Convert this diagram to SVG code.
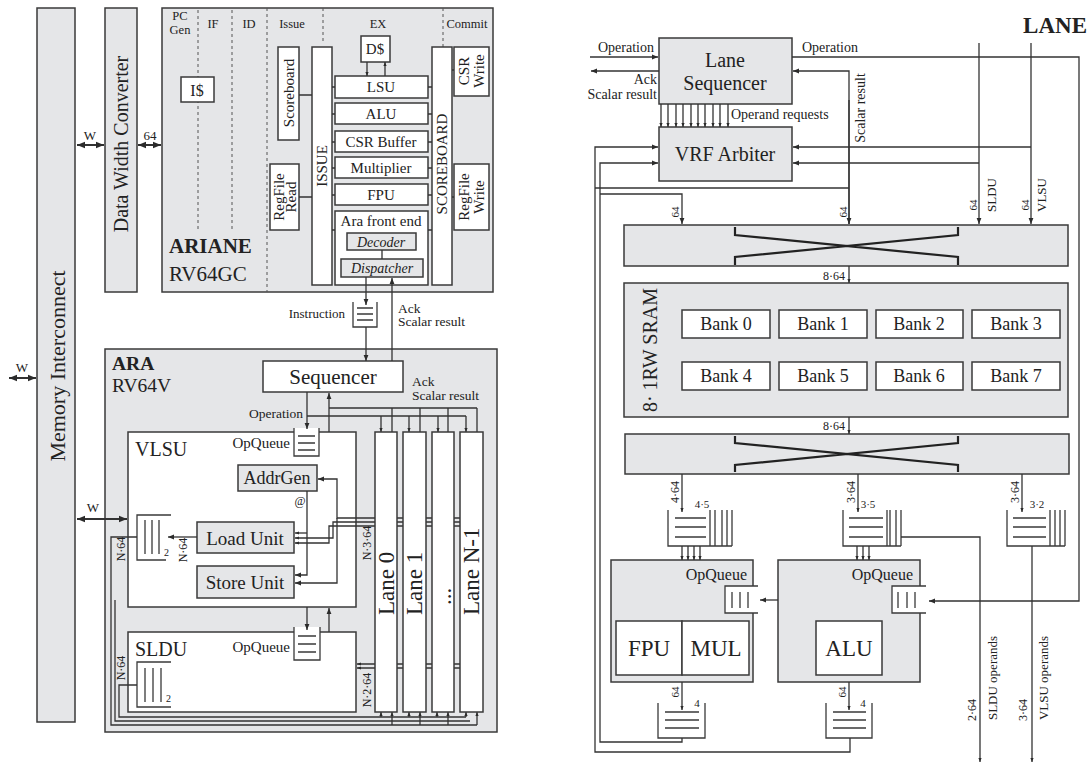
<svg xmlns="http://www.w3.org/2000/svg" width="1091" height="765" viewBox="0 0 1091 765">
<defs>
<marker id="a" viewBox="0 0 10 10" refX="10" refY="5" markerWidth="6" markerHeight="6" markerUnits="userSpaceOnUse" orient="auto-start-reverse"><path d="M0,1 L10,5 L0,9z" fill="#2b2b2b"/></marker>
<marker id="s" viewBox="0 0 10 10" refX="10" refY="5" markerWidth="4" markerHeight="4" markerUnits="userSpaceOnUse" orient="auto-start-reverse"><path d="M0,1 L10,5 L0,9z" fill="#2b2b2b"/></marker>
<marker id="b" viewBox="0 0 10 10" refX="10" refY="5" markerWidth="8" markerHeight="8" markerUnits="userSpaceOnUse" orient="auto-start-reverse"><path d="M0,1 L10,5 L0,9z" fill="#2b2b2b"/></marker>
</defs>
<style>
text{font-family:"Liberation Serif","Times New Roman",serif;fill:#222}
.g{fill:#e5e6e8;stroke:#3a3a3a;stroke-width:1.5}
.w{fill:#fff;stroke:#3a3a3a;stroke-width:1.5}
.q{fill:none;stroke:#3a3a3a;stroke-width:1.3}
.dash{fill:none;stroke:#555;stroke-width:1;stroke-dasharray:3 3}
.c{text-anchor:middle;dominant-baseline:central}
.m{text-anchor:middle}
.e{text-anchor:end}
.x{fill:none;stroke:#222;stroke-width:2.2}
.cn{fill:none;stroke:#333;stroke-width:1.3}
</style>
<rect width="1091" height="765" fill="#fff"/>

<!-- ===== LEFT: system ===== -->
<g id="memory-interconnect"><rect class="g" x="37" y="8" width="38" height="714"/><text class="c" font-size="22" x="57" y="366" transform="rotate(-90 57 366)">Memory Interconnect</text></g>
<g id="data-width-converter"><rect class="g" x="105" y="8" width="32" height="284"/><text class="c" font-size="20" x="121" y="144" transform="rotate(-90 121 144)">Data Width Converter</text></g>

<g id="ariane">
<rect class="g" x="162" y="8" width="331" height="284"/>
<path class="dash" d="M198,10V230M232,10V230M267,8V292M323,8V43M443,8V47"/>
<g font-size="12.5">
<text x="180" y="20" class="m">PC</text><text x="180" y="34" class="m">Gen</text>
<text x="213" y="28" class="m">IF</text><text x="249" y="28" class="m">ID</text>
<text x="292" y="28" class="m">Issue</text><text x="378" y="28" class="m">EX</text><text x="467" y="28" class="m">Commit</text>
</g>
<text x="169" y="253" font-size="21" font-weight="bold">ARIANE</text>
<text x="169" y="281" font-size="21">RV64GC</text>
</g>
<g id="icache"><rect class="w" x="181" y="77" width="33" height="25"/><text class="c" x="197" y="90" font-size="16">I$</text></g>
<g id="scoreboard-small"><rect class="w" x="278" y="47" width="21" height="93"/><text class="c" font-size="15" x="289" y="93" transform="rotate(-90 289 93)">Scoreboard</text></g>
<g id="regfile-read"><rect class="w" x="270" y="164" width="29" height="66"/><text class="c" font-size="15" x="279" y="197" transform="rotate(-90 279 197)">RegFile</text><text class="c" font-size="15" x="291" y="197" transform="rotate(-90 291 197)">Read</text></g>
<g id="issue"><rect class="w" x="312" y="47" width="20" height="238"/><text class="c" font-size="15" x="322" y="166" transform="rotate(-90 322 166)">ISSUE</text></g>
<g id="dcache"><rect class="w" x="361" y="36" width="29" height="26"/><text class="c" x="375" y="49" font-size="15">D$</text></g>
<g id="lsu"><rect class="w" x="335" y="76" width="93" height="22"/><text class="c" x="381" y="87" font-size="15">LSU</text></g>
<g id="alu-ariane"><rect class="w" x="335" y="103" width="93" height="21"/><text class="c" x="381" y="114" font-size="15">ALU</text></g>
<g id="csr-buffer"><rect class="w" x="335" y="131" width="93" height="21"/><text class="c" x="381" y="142" font-size="15">CSR Buffer</text></g>
<g id="multiplier"><rect class="w" x="335" y="157" width="93" height="21"/><text class="c" x="381" y="168" font-size="15">Multiplier</text></g>
<g id="fpu-ariane"><rect class="w" x="335" y="184" width="93" height="21"/><text class="c" x="381" y="195" font-size="15">FPU</text></g>
<g id="ara-front-end"><rect class="w" x="335" y="211" width="93" height="74"/><text class="c" x="381" y="221" font-size="15">Ara front end</text></g>
<g id="decoder"><rect class="g" x="347" y="233" width="69" height="17"/><text class="c" x="381" y="242" font-size="14" font-style="italic">Decoder</text></g>
<g id="dispatcher"><rect class="g" x="341" y="259" width="82" height="18"/><text class="c" x="382" y="268" font-size="14" font-style="italic">Dispatcher</text></g>
<g id="scoreboard"><rect class="w" x="432" y="47" width="20" height="238"/><text class="c" font-size="15" x="442" y="164" transform="rotate(-90 442 164)">SCOREBOARD</text></g>
<g id="csr-write"><rect class="w" x="454" y="47" width="35" height="49"/><text class="c" font-size="15" x="464" y="71" transform="rotate(-90 464 71)">CSR</text><text class="c" font-size="15" x="479" y="71" transform="rotate(-90 479 71)">Write</text></g>
<g id="regfile-write"><rect class="w" x="454" y="164" width="35" height="66"/><text class="c" font-size="15" x="464" y="197" transform="rotate(-90 464 197)">RegFile</text><text class="c" font-size="15" x="479" y="197" transform="rotate(-90 479 197)">Write</text></g>

<g id="instruction-queue"><rect x="353" y="302" width="24" height="25" fill="#fff"/><path class="q" d="M353,302V327H377V302M357,308H373M357,314H373M357,320H373"/><text x="345" y="318" font-size="13" class="e">Instruction</text></g>
<text x="398" y="313" font-size="13.5">Ack</text><text x="398" y="326" font-size="13.5">Scalar result</text>

<g id="ara">
<rect class="g" x="105" y="349" width="392" height="383"/>
<text x="112" y="370" font-size="19.5" font-weight="bold">ARA</text>
<text x="112" y="392" font-size="19.5">RV64V</text>
<text x="412" y="386" font-size="13.5">Ack</text><text x="412" y="400" font-size="13.5">Scalar result</text>
<text x="303" y="418" font-size="13.5" class="e">Operation</text>
</g>
<g id="sequencer"><rect class="w" x="263" y="361" width="140" height="31"/><text class="c" x="333" y="377" font-size="21">Sequencer</text></g>

<g id="vlsu">
<rect class="w" x="128" y="432" width="228" height="175"/>
<text x="135" y="456" font-size="20">VLSU</text>
<text x="290" y="448" font-size="15" class="e">OpQueue</text>
<rect x="294" y="428" width="25" height="28" fill="#fff"/>
<path class="q" d="M294,428V456H319V428M298,436H315M298,443H315M298,450H315"/>
<path class="q" d="M171,515H137V560H166M145,520V554M152,520V554M159,520V554"/>
<text x="164" y="556" font-size="10">2</text>
<text class="c" font-size="12" x="183" y="550" transform="rotate(-90 183 550)">N·64</text>
<text class="c" font-size="12" x="367" y="543" transform="rotate(-90 367 543)">N·3·64</text>
<text class="c" font-size="12" x="300" y="501">@</text>
</g>
<g id="addrgen"><rect class="g" x="238" y="465" width="79" height="26"/><text class="c" x="277" y="478" font-size="18">AddrGen</text></g>
<g id="load-unit"><rect class="g" x="197" y="522" width="97" height="31"/><text class="c" x="245" y="538" font-size="19">Load Unit</text></g>
<g id="store-unit"><rect class="g" x="197" y="566" width="97" height="32"/><text class="c" x="245" y="582" font-size="19">Store Unit</text></g>

<g id="sldu">
<rect class="w" x="128" y="632" width="228" height="80"/>
<text x="135" y="656" font-size="20">SLDU</text>
<text x="290" y="652" font-size="15" class="e">OpQueue</text>
<rect x="294" y="627" width="26" height="33" fill="#fff"/>
<path class="q" d="M294,627V660H320V627M298,636H316M298,644H316M298,652H316"/>
<path class="q" d="M171,662H137V707H171M145,668V702M153,668V702M161,668V702"/>
<text x="166" y="702" font-size="10">2</text>
<text class="c" font-size="12" x="121" y="668" transform="rotate(-90 121 668)">N·64</text>
<text class="c" font-size="12" x="367" y="690" transform="rotate(-90 367 690)">N·2·64</text>
</g>
<text class="c" font-size="12" x="121" y="549" transform="rotate(-90 121 549)">N·64</text>

<g id="connectors-left" class="cn">
<text x="22" y="372" font-size="13" class="m" stroke="none">W</text>
<line x1="9" y1="378" x2="36" y2="378" stroke-width="2" marker-start="url(#b)" marker-end="url(#b)"/>
<text x="90" y="140" font-size="13" class="m" stroke="none">W</text>
<line x1="77" y1="145" x2="104" y2="145" stroke-width="2" marker-start="url(#b)" marker-end="url(#b)"/>
<text x="150" y="140" font-size="13" class="m" stroke="none">64</text>
<line x1="138" y1="145" x2="161" y2="145" stroke-width="2" marker-start="url(#b)" marker-end="url(#b)"/>
<text x="93" y="512" font-size="13" class="m" stroke="none">W</text>
<line x1="77" y1="519" x2="127" y2="519" stroke-width="2" marker-start="url(#b)" marker-end="url(#b)"/>
<path d="M367,62V76" marker-end="url(#s)"/>
<path d="M385,76V62" marker-end="url(#s)"/>
<path d="M332,87h3M332,114h3M332,142h3M332,168h3M332,195h3M332,230h3M428,87h4M428,114h4M428,142h4M428,168h4M428,195h4M428,230h4M299,95h13M299,197h13M452,70h2M452,197h2M382,250V259"/>
<path d="M366,277V305" marker-end="url(#a)"/>
<path d="M366,327V361" marker-end="url(#a)"/>
<path d="M392,361V278" marker-end="url(#a)"/>
<path d="M307,392V429" marker-end="url(#a)"/>
<path d="M307,416H466"/>
<path d="M381,416V432" marker-end="url(#s)"/>
<path d="M409,416V432" marker-end="url(#s)"/>
<path d="M438,416V432" marker-end="url(#s)"/>
<path d="M466,416V432" marker-end="url(#s)"/>
<path d="M329,432V393" marker-end="url(#a)"/>
<path d="M329,408H477M392,432V408M420,432V408M448,432V408M477,432V408"/>
<path d="M307,491V575H295" marker-end="url(#a)"/>
<path d="M307,533H295" marker-end="url(#s)"/>
<path d="M462,518H337V479H318" marker-end="url(#a)"/>
<path d="M337,518V583H295" marker-end="url(#a)"/>
<path d="M462,522H333V538H295" marker-end="url(#s)"/>
<path d="M462,526H329V543H295" marker-end="url(#s)"/>
<path d="M197,537H168" marker-end="url(#a)"/>
<path d="M137,537H111V725H477"/>
<path d="M115,600V721H470"/>
<path d="M137,685H119V717H466"/>
<path d="M307,607V630" marker-end="url(#a)"/>
<path d="M329,632V608" marker-end="url(#a)"/>
<path d="M462,664H357" marker-end="url(#s)"/>
<path d="M462,668H357" marker-end="url(#s)"/>
<path d="M381,717V712" marker-end="url(#s)"/>
<path d="M409,717V712" marker-end="url(#s)"/>
<path d="M437,717V712" marker-end="url(#s)"/>
<path d="M466,717V712" marker-end="url(#s)"/>
<path d="M392,725V712" marker-end="url(#s)"/>
<path d="M420,725V712" marker-end="url(#s)"/>
<path d="M448,725V712" marker-end="url(#s)"/>
<path d="M477,725V712" marker-end="url(#s)"/>
</g>

<g id="lane-0"><rect class="w" x="375" y="432" width="22" height="280"/><text font-size="23" dominant-baseline="central" x="386" y="615" transform="rotate(-90 386 615)">Lane 0</text></g>
<g id="lane-1"><rect class="w" x="403" y="432" width="23" height="280"/><text font-size="23" dominant-baseline="central" x="414" y="615" transform="rotate(-90 414 615)">Lane 1</text></g>
<g id="lane-dots"><rect class="w" x="432" y="432" width="22" height="280"/><text font-size="23" dominant-baseline="central" x="443" y="605" transform="rotate(-90 443 605)">...</text></g>
<g id="lane-n-1"><rect class="w" x="460" y="432" width="23" height="280"/><text font-size="23" dominant-baseline="central" x="471" y="615" transform="rotate(-90 471 615)">Lane N-1</text></g>

<!-- ===== RIGHT: LANE ===== -->
<text x="1087" y="33" font-size="23" font-weight="bold" class="e">LANE</text>
<g id="lane-sequencer"><rect class="g" x="659" y="38" width="133" height="66"/><text class="c" x="725" y="60" font-size="20">Lane</text><text class="c" x="725" y="83" font-size="20">Sequencer</text></g>
<g id="vrf-arbiter"><rect class="g" x="659" y="127" width="133" height="54"/><text class="c" x="725" y="154" font-size="20">VRF Arbiter</text></g>
<g id="crossbar-1"><rect class="g" x="624" y="225" width="444" height="41"/><path class="x" d="M735,227V235L958,257V265M735,265V257L958,235V227"/></g>
<g id="vrf-sram">
<rect class="g" x="624" y="283" width="444" height="134"/>
<text class="c" font-size="20" x="650" y="350" transform="rotate(-90 650 350)">8· 1RW SRAM</text>
</g>
<g id="bank-0"><rect class="w" x="682" y="310" width="88" height="28"/><text class="c" x="726" y="324" font-size="18">Bank 0</text></g>
<g id="bank-1"><rect class="w" x="779" y="310" width="88" height="28"/><text class="c" x="823" y="324" font-size="18">Bank 1</text></g>
<g id="bank-2"><rect class="w" x="876" y="310" width="87" height="28"/><text class="c" x="919" y="324" font-size="18">Bank 2</text></g>
<g id="bank-3"><rect class="w" x="972" y="310" width="88" height="28"/><text class="c" x="1016" y="324" font-size="18">Bank 3</text></g>
<g id="bank-4"><rect class="w" x="682" y="362" width="88" height="28"/><text class="c" x="726" y="376" font-size="18">Bank 4</text></g>
<g id="bank-5"><rect class="w" x="779" y="362" width="88" height="28"/><text class="c" x="823" y="376" font-size="18">Bank 5</text></g>
<g id="bank-6"><rect class="w" x="876" y="362" width="87" height="28"/><text class="c" x="919" y="376" font-size="18">Bank 6</text></g>
<g id="bank-7"><rect class="w" x="972" y="362" width="88" height="28"/><text class="c" x="1016" y="376" font-size="18">Bank 7</text></g>
<g id="crossbar-2"><rect class="g" x="625" y="434" width="444" height="40"/><path class="x" d="M735,436V443L958,465V472M735,472V465L958,443V436"/></g>

<g id="queue-fpu-operands"><path class="q" d="M668,510V546H732M710,510V546M715,510V546M722,510V546M727,510V546M732,510V546M675,518H706M675,527H706M675,537H706"/><text x="702" y="508" font-size="11" class="m">4·5</text></g>
<g id="queue-alu-operands"><path class="q" d="M843,510V546H901M887,510V546M890,510V546M896,510V546M901,510V546M849,518H883M849,527H883M849,537H883"/><text x="868" y="508" font-size="11" class="m">3·5</text></g>
<g id="queue-mask-operands"><path class="q" d="M1007,510V546H1065M1050,510V546M1055,510V546M1060,510V546M1065,510V546M1013,518H1046M1013,527H1046M1013,537H1046"/><text x="1037" y="508" font-size="11" class="m">3·2</text></g>

<g id="fpu-mul-unit">
<rect class="g" x="611" y="560" width="142" height="122"/>
<text x="747" y="580" font-size="16" class="e">OpQueue</text>
<rect x="725" y="586" width="32" height="27" fill="#fff"/>
<path class="q" d="M758,586H725V613H758M732,592V608M740,592V608M748,592V608"/>
<rect class="w" x="616" y="621" width="66" height="54"/><text class="c" x="649" y="648" font-size="23">FPU</text>
<rect class="w" x="682" y="621" width="67" height="54"/><text class="c" x="716" y="648" font-size="23">MUL</text>
</g>
<g id="alu-unit">
<rect class="g" x="778" y="560" width="142" height="122"/>
<text x="913" y="580" font-size="16" class="e">OpQueue</text>
<rect x="892" y="586" width="33" height="27" fill="#fff"/>
<path class="q" d="M926,586H892V613H926M898,592V608M907,592V608M915,592V608"/>
<rect class="w" x="816" y="621" width="66" height="54"/><text class="c" x="849" y="648" font-size="23">ALU</text>
</g>
<g id="queue-fpu-result"><path class="q" d="M658,703V738H705V703M665,712H699M665,720H699M665,728H699"/><text x="697" y="707" font-size="11" class="m">4</text></g>
<g id="queue-alu-result"><path class="q" d="M826,703V738H872V703M833,712H866M833,720H866M833,728H866"/><text x="863" y="707" font-size="11" class="m">4</text></g>

<g id="connectors-right" class="cn">
<text x="626" y="52" font-size="14" class="m" stroke="none">Operation</text>
<path d="M590,57H658" marker-end="url(#a)"/>
<path d="M659,71H591" marker-end="url(#a)"/>
<text x="657" y="84" font-size="14" class="e" stroke="none">Ack</text>
<text x="657" y="99" font-size="14" class="e" stroke="none">Scalar result</text>
<path d="M661,104V127" marker-end="url(#s)"/><path d="M668,104V127" marker-end="url(#s)"/><path d="M676,104V127" marker-end="url(#s)"/><path d="M683,104V127" marker-end="url(#s)"/><path d="M691,104V127" marker-end="url(#s)"/><path d="M698,104V127" marker-end="url(#s)"/><path d="M705,104V127" marker-end="url(#s)"/><path d="M713,104V127" marker-end="url(#s)"/><path d="M720,104V127" marker-end="url(#s)"/><path d="M728,104V127" marker-end="url(#s)"/>
<text x="731" y="119" font-size="14" stroke="none">Operand requests</text>
<text x="802" y="52" font-size="14" stroke="none">Operation</text>
<path d="M792,57H1079V601H929" marker-end="url(#a)"/>
<path d="M849,224V71H793" marker-end="url(#a)"/>
<path d="M849,100V224" marker-end="url(#a)"/>
<text class="c" font-size="14" x="860" y="108" transform="rotate(-90 860 108)" stroke="none">Scalar result</text>
<path d="M979,43V224" marker-end="url(#a)"/>
<path d="M1031,43V224" marker-end="url(#a)"/>
<path d="M979,163H793" marker-end="url(#a)"/>
<path d="M1031,147H793" marker-end="url(#a)"/>
<text class="c" font-size="11" x="973" y="205" transform="rotate(-90 973 205)" stroke="none">64</text>
<text class="c" font-size="13" x="991" y="195" transform="rotate(-90 991 195)" stroke="none">SLDU</text>
<text class="c" font-size="11" x="1025" y="205" transform="rotate(-90 1025 205)" stroke="none">64</text>
<text class="c" font-size="13" x="1041" y="195" transform="rotate(-90 1041 195)" stroke="none">VLSU</text>
<path d="M850,738V752H595V147H658" marker-end="url(#a)"/>
<path d="M595,188H849"/>
<path d="M682,738V742H600V163H658" marker-end="url(#a)"/>
<path d="M600,194H682V224" marker-end="url(#a)"/>
<text class="c" font-size="11" x="675" y="212" transform="rotate(-90 675 212)" stroke="none">64</text>
<text class="c" font-size="11" x="843" y="212" transform="rotate(-90 843 212)" stroke="none">64</text>
<path d="M849,266V283" marker-end="url(#s)"/>
<text x="845" y="280" font-size="12" class="e" stroke="none">8·64</text>
<path d="M849,417V434" marker-end="url(#s)"/>
<text x="845" y="430" font-size="12" class="e" stroke="none">8·64</text>
<path d="M682,474V512" marker-end="url(#s)"/>
<path d="M858,474V512" marker-end="url(#s)"/>
<path d="M1022,474V512" marker-end="url(#s)"/>
<text class="c" font-size="12" x="675" y="492" transform="rotate(-90 675 492)" stroke="none">4·64</text>
<text class="c" font-size="12" x="851" y="492" transform="rotate(-90 851 492)" stroke="none">3·64</text>
<text class="c" font-size="12" x="1015" y="492" transform="rotate(-90 1015 492)" stroke="none">3·64</text>
<path d="M682,546V560" marker-end="url(#s)"/><path d="M688,546V560" marker-end="url(#s)"/><path d="M694,546V560" marker-end="url(#s)"/><path d="M700,546V560" marker-end="url(#s)"/>
<path d="M857,546V560" marker-end="url(#s)"/><path d="M863,546V560" marker-end="url(#s)"/><path d="M869,546V560" marker-end="url(#s)"/>
<path d="M901,537H980V762" marker-end="url(#s)"/>
<path d="M1032,546V762" marker-end="url(#s)"/>
<path d="M778,600H760" marker-end="url(#a)"/>
<path d="M682,682V710" marker-end="url(#s)"/>
<path d="M849,682V710" marker-end="url(#s)"/>
<text class="c" font-size="11" x="675" y="692" transform="rotate(-90 675 692)" stroke="none">64</text>
<text class="c" font-size="11" x="842" y="692" transform="rotate(-90 842 692)" stroke="none">64</text>
<text class="c" font-size="12" x="972" y="710" transform="rotate(-90 972 710)" stroke="none">2·64</text>
<text class="c" font-size="13" x="992" y="678" transform="rotate(-90 992 678)" stroke="none">SLDU operands</text>
<text class="c" font-size="12" x="1023" y="710" transform="rotate(-90 1023 710)" stroke="none">3·64</text>
<text class="c" font-size="13" x="1043" y="678" transform="rotate(-90 1043 678)" stroke="none">VLSU operands</text>
</g>
</svg>
